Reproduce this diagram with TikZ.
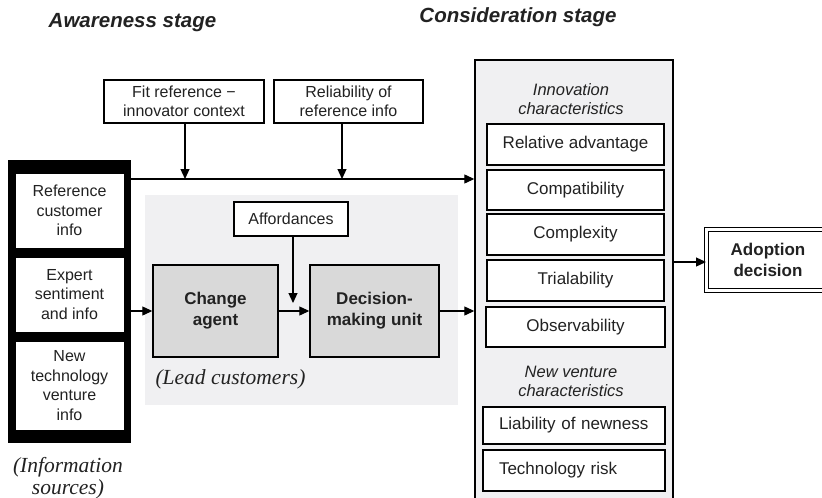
\documentclass[tikz,border=0pt]{standalone}
\usepackage{fontspec}
\setmainfont{Liberation Sans}
\newfontfamily\serifit{Liberation Serif}
\usetikzlibrary{arrows.meta}
\definecolor{txt}{HTML}{222222}
\definecolor{panel}{HTML}{F0F0F2}
\definecolor{agent}{HTML}{D9D9D9}
\tikzset{
  box/.style={draw=black, line width=1.4pt, fill=white, inner sep=2pt, align=center, text=txt,
    font=\fontsize{16}{19.5}\selectfont},
  graybox/.style={box, fill=agent, font=\fontsize{17}{21}\selectfont\bfseries},
  arr/.style={line width=1.2pt, -{Triangle[length=10pt,width=9pt]}},
  title/.style={text=txt, font=\fontsize{20.5}{24}\selectfont\bfseries\itshape},
  sublabel/.style={text=txt, align=center, font=\fontsize{16.5}{19}\selectfont\itshape},
  serlabel/.style={text=txt, align=center, font=\fontsize{21.5}{22}\selectfont\serifit\itshape},
}
\begin{document}
\begin{tikzpicture}[x=1pt,y=-1pt]
\useasboundingbox (0,0) rectangle (822,498);
\clip (0,0) rectangle (822,498);
\fill[white] (0,0) rectangle (822,498);
% titles
\node[title] (t1) at (132.5,23) {Awareness stage};
\node[title] (t2) at (518,17) {Consideration stage};
% lead customers panel
\node[fill=panel, minimum width=313pt, minimum height=210pt, inner sep=0pt] (panel) at (301.5,300) {};
% consideration big box
\node[draw=black, line width=1.4pt, fill=panel, minimum width=198pt, minimum height=460pt, inner sep=0pt] (cons) at (574,290) {};
% information sources frame
\node[fill=black, minimum width=123pt, minimum height=283pt, inner sep=0pt] (src) at (69.5,301.5) {};
\node[box, line width=1pt, minimum width=109pt, minimum height=75pt] (ref) at (69.5,210.5) {Reference\\customer\\info};
\node[box, line width=1pt, minimum width=109pt, minimum height=75pt] (exp) at (69.5,294.5) {Expert\\sentiment\\and info};
\node[box, line width=1pt, minimum width=109pt, minimum height=89pt] (new) at (69.5,385.5) {New\\technology\\venture\\info};
\node[serlabel] (infolab) at (68,478) {(Information\\sources)};
% top moderator boxes
\node[box, minimum width=160pt, minimum height=43pt] (fit) at (184,101.5) {Fit reference −\\innovator context};
\node[box, minimum width=149pt, minimum height=43pt] (rel) at (348.5,101.5) {Reliability of\\reference info};
% panel content
\node[box, minimum width=114pt, minimum height=34pt] (aff) at (291,219) {Affordances};
\node[graybox, minimum width=125pt, minimum height=92pt] (ca) at (215.5,311) {Change\\agent};
\node[graybox, minimum width=129pt, minimum height=92pt] (dmu) at (374.5,311) {Decision-\\making unit};
\node[serlabel, anchor=west] (lead) at (152,379) {(Lead customers)};
% consideration content
\node[sublabel] (innlab) at (571,99) {Innovation\\characteristics};
\node[box, font=\fontsize{17}{20}\selectfont, minimum width=177pt, minimum height=41pt] (ra) at (575.5,144.5) {Relative advantage};
\node[box, font=\fontsize{17}{20}\selectfont, minimum width=177pt, minimum height=40pt] (comp) at (575.5,190) {Compatibility};
\node[box, font=\fontsize{17}{20}\selectfont, minimum width=177pt, minimum height=41pt] (cplx) at (575.5,234.5) {Complexity};
\node[box, font=\fontsize{17}{20}\selectfont, minimum width=177pt, minimum height=41pt] (tri) at (575.5,280.5) {Trialability};
\node[box, font=\fontsize{17}{20}\selectfont, minimum width=179pt, minimum height=40pt] (obs) at (575.5,327) {Observability};
\node[sublabel] (nvlab) at (571,381.5) {New venture\\characteristics};
\node[box, font=\fontsize{17}{20}\selectfont, text width=150pt, inner xsep=16pt, align=left, minimum height=37pt] (lia) at (574,425.5) {Liability of newness};
\node[box, font=\fontsize{17}{20}\selectfont, text width=150pt, inner xsep=16pt, align=left, minimum height=41pt] (tech) at (574,470.5) {Technology risk};
% adoption decision (box runs past the right edge)
\node[box, double=white, double distance=2.2pt, line width=1.1pt, minimum width=150pt, minimum height=61pt, anchor=west] (adopt) at (706,260) {};
\node[text=txt, align=center, font=\fontsize{17}{21}\selectfont\bfseries] (adoptlab) at (768,260) {Adoption\\decision};
% connector anchor points
\coordinate (top) at (131,179);
\coordinate (fitdrop) at (185,179);
\coordinate (reldrop) at (342,179);
\coordinate (mid) at (131,311);
\coordinate (affdrop) at (293,303);
\coordinate (outy) at (700,262);
% connectors
\draw[arr] (top) -- (cons.west |- top);
\draw[arr] (fit.south -| fitdrop) -- (fitdrop);
\draw[arr] (rel.south -| reldrop) -- (reldrop);
\draw[arr] (mid) -- (ca.west);
\draw[arr] (ca.east) -- (dmu.west);
\draw[arr] (aff.south -| affdrop) -- (affdrop);
\draw[arr] (dmu.east) -- (cons.west |- dmu.east);
\draw[arr] (cons.east |- outy) -- (adopt.west |- outy);
\end{tikzpicture}
\end{document}
